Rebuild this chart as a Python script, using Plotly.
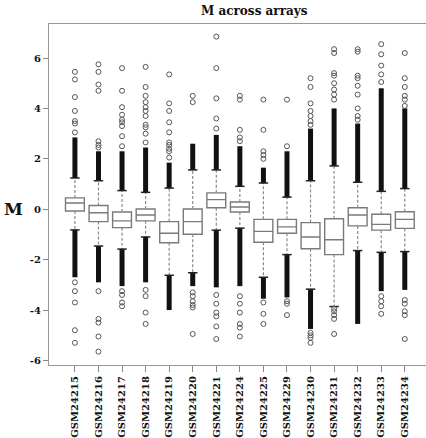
import plotly.graph_objects as go

# Per-array summary of the M values (log-ratio) across the arrays
arrays = ["GSM24215", "GSM24216", "GSM24217", "GSM24218", "GSM24219",
          "GSM24220", "GSM24221", "GSM24224", "GSM24225", "GSM24229",
          "GSM24230", "GSM24231", "GSM24232", "GSM24233", "GSM24234"]

q1 = [-0.07, -0.49, -0.73, -0.46, -1.33, -0.99, 0.06, -0.11,
      -1.31, -0.95, -1.57, -1.80, -0.66, -0.83, -0.76]
median = [0.25, -0.14, -0.46, -0.23, -0.95, -0.49, 0.38, 0.09,
          -0.88, -0.70, -1.10, -1.21, -0.23, -0.60, -0.40]
q3 = [0.45, 0.15, -0.11, 0.01, -0.49, 0.01, 0.65, 0.29,
      -0.40, -0.40, -0.53, -0.38, 0.06, -0.20, -0.10]
upper_whisker = [1.24, 1.13, 0.74, 0.67, 0.84, 1.56, 1.56, 0.91,
                 1.04, 0.48, 1.13, 1.72, 1.07, 0.71, 0.82]
lower_whisker = [-0.82, -1.46, -1.58, -1.10, -2.62, -2.52, -0.83, -0.75,
                 -2.70, -1.80, -3.17, -3.86, -1.64, -1.71, -1.68]

# Extent of the heavily overplotted outlier runs just beyond each whisker
dense_top = [2.85, 2.30, 2.30, 2.45, 1.85, 2.60, 2.95, 2.50,
             1.65, 2.30, 3.20, 4.00, 3.40, 4.80, 4.00]
dense_bottom = [-2.70, -2.90, -3.05, -2.90, -4.00, -3.05, -3.10, -3.05,
                -3.55, -3.50, -4.75, -3.86, -4.55, -3.25, -3.20]

# Isolated outliers
outliers_high = [
    [3.05, 3.4, 3.5, 3.9, 4.45, 5.15, 5.45],
    [2.45, 2.55, 2.7, 4.7, 4.95, 5.45, 5.75],
    [2.5, 2.9, 3.3, 3.45, 3.55, 3.75, 4.05, 4.7, 5.6],
    [2.65, 3.0, 3.25, 3.35, 3.7, 3.9, 4.05, 4.25, 4.5, 4.85, 5.65],
    [2.05, 2.3, 2.4, 2.55, 2.65, 3.05, 3.45, 3.9, 4.2, 5.35],
    [4.25, 4.5],
    [3.2, 3.6, 4.4, 5.6, 6.85],
    [2.7, 2.85, 3.15, 4.35, 4.5],
    [2.0, 2.15, 2.3, 3.15, 4.35],
    [2.5, 4.35],
    [3.35, 3.5, 3.7, 3.9, 4.2, 4.85, 5.2],
    [4.35, 4.55, 4.75, 5.0, 5.3, 5.4, 6.2, 6.35],
    [3.55, 3.7, 4.0, 4.55, 4.9, 5.2, 5.3, 6.25, 6.35],
    [5.05, 5.35, 5.7, 6.15, 6.55],
    [4.1, 4.35, 4.5, 4.85, 5.2, 6.2],
]
outliers_low = [
    [-2.9, -3.25, -3.7, -4.8, -5.3],
    [-3.25, -4.35, -4.5, -5.05, -5.65],
    [-3.25, -3.4, -3.7, -3.85],
    [-3.2, -3.45, -4.1, -4.55],
    [],
    [-3.3, -3.45, -3.65, -3.8, -3.9, -4.95],
    [-3.4, -3.75, -4.1, -4.25, -4.65, -5.15],
    [-3.45, -3.75, -4.1, -4.55, -4.7, -5.05],
    [-3.7, -4.15, -4.55],
    [-3.65, -3.75, -4.2],
    [-4.9, -5.0, -5.1, -5.3],
    [-3.95, -4.05, -4.2, -4.35, -4.95],
    [],
    [-3.45, -3.65, -3.85, -4.15],
    [-3.6, -3.75, -4.05, -4.2, -5.15],
]

pos = list(range(1, len(arrays) + 1))
serif = "DejaVu Serif"
grey = "#7a7a7a"

fig = go.Figure()

# Dashed whiskers from the box edges out to the fences
wx, wy = [], []
for i, p in enumerate(pos):
    wx += [p, p, None, p, p, None]
    wy += [q3[i], upper_whisker[i], None, q1[i], lower_whisker[i], None]
fig.add_trace(go.Scatter(x=wx, y=wy, mode="lines", hoverinfo="skip",
                         line=dict(color="#8a8a8a", width=1.2, dash="3px,2px")))

# Overplotted outlier runs
dx, dy = [], []
for i, p in enumerate(pos):
    dx += [p, p, None, p, p, None]
    dy += [upper_whisker[i], dense_top[i], None,
           lower_whisker[i], dense_bottom[i], None]
fig.add_trace(go.Scatter(x=dx, y=dy, mode="lines", hoverinfo="skip",
                         line=dict(color="#111111", width=5)))

# Whisker end staples
sx, sy = [], []
for i, p in enumerate(pos):
    sx += [p - 0.2, p + 0.2, None, p - 0.2, p + 0.2, None]
    sy += [upper_whisker[i], upper_whisker[i], None,
           lower_whisker[i], lower_whisker[i], None]
fig.add_trace(go.Scatter(x=sx, y=sy, mode="lines", hoverinfo="skip",
                         line=dict(color="#222222", width=1.5)))

# Boxes (quartiles and median)
fig.add_trace(go.Box(
    x=pos, q1=q1, median=median, q3=q3,
    lowerfence=q1, upperfence=q3,
    width=0.8, whiskerwidth=0,
    fillcolor="white", line=dict(color=grey, width=1.4),
    boxpoints=False, hoverinfo="skip",
))

# Individual outliers
ox, oy = [], []
for i, p in enumerate(pos):
    for v in outliers_high[i] + outliers_low[i]:
        ox.append(p)
        oy.append(v)
fig.add_trace(go.Scatter(x=ox, y=oy, mode="markers", hoverinfo="skip",
                         marker=dict(symbol="circle-open", size=5,
                                     color="#555555", line=dict(width=1))))

ytick_vals = [-6, -4, -2, 0, 2, 4, 6]
ytick_text = ["-6", "-4", "-2", "0", "2", "4", "6"]

fig.update_layout(
    width=426, height=438,
    margin=dict(l=49, r=0, t=24, b=69),
    plot_bgcolor="white", paper_bgcolor="white",
    showlegend=False,
    xaxis=dict(
        range=[-0.1, 15.9], tickmode="array", tickvals=pos, ticktext=arrays,
        tickangle=-90, ticks="outside", ticklen=6, tickcolor="#888888",
        tickfont=dict(family=serif, size=10, color="#111111", weight="bold"),
        showline=True, mirror=True, linecolor="#999999", linewidth=1.3,
        showgrid=False, zeroline=False,
    ),
    yaxis=dict(
        range=[-6.18, 7.35], tickmode="array", tickvals=ytick_vals,
        ticktext=ytick_text, ticks="outside", ticklen=5, tickcolor="#888888",
        tickfont=dict(family=serif, size=10, color="#111111", weight="bold"),
        showline=True, linecolor="#999999", linewidth=1.3,
        showgrid=False, zeroline=False,
    ),
    annotations=[
        dict(text="M across arrays", xref="paper", yref="paper",
             x=0.544, y=1.038, xanchor="center", yanchor="middle",
             showarrow=False,
             font=dict(family=serif, size=12, color="#111111", weight="bold")),
        dict(text="M", xref="paper", yref="y", x=-0.095, y=0,
             xanchor="center", yanchor="middle", showarrow=False,
             font=dict(family=serif, size=17, color="#111111", weight="bold")),
    ],
)

fig.write_html("out.html")
